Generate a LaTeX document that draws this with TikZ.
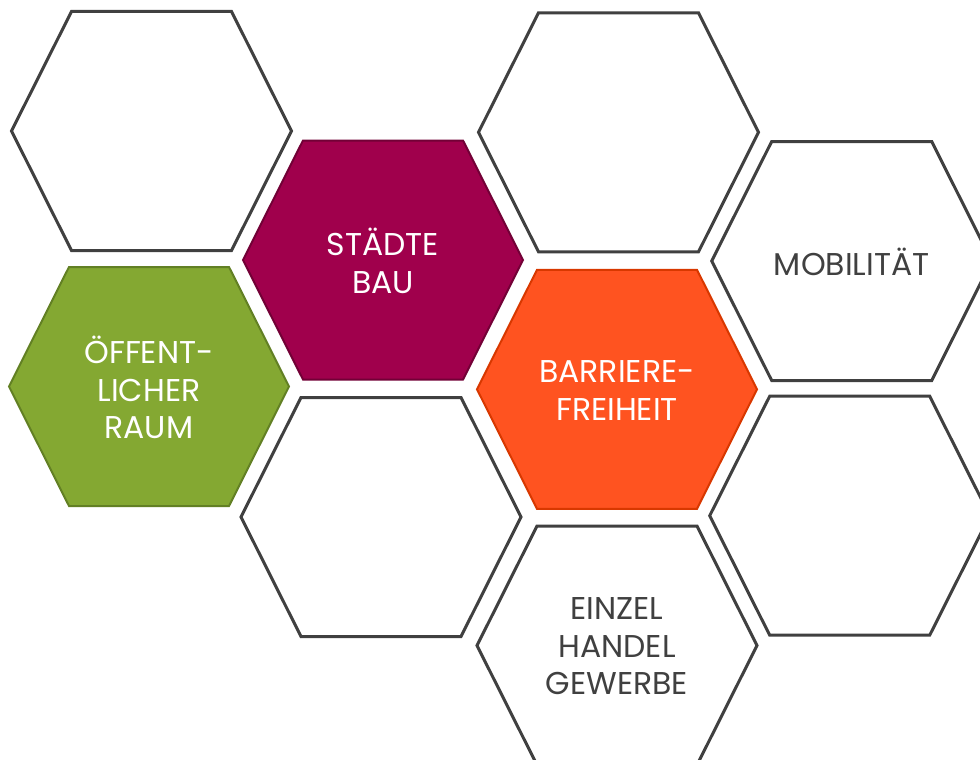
\documentclass[tikz,border=0pt]{standalone}
\usepackage{fontspec}
\setmainfont{Poppins}
\definecolor{edgegray}{HTML}{404040}
\definecolor{txtgray}{HTML}{404040}
\definecolor{purplefill}{HTML}{A0004C}
\definecolor{purpleedge}{HTML}{720036}
\definecolor{greenfill}{HTML}{84A832}
\definecolor{greenedge}{HTML}{628024}
\definecolor{orangefill}{HTML}{FF5320}
\definecolor{orangeedge}{HTML}{D83800}
\tikzset{
  plainhex/.style={draw=edgegray, line width=3pt, fill=white},
  purplehex/.style={draw=purpleedge, line width=2pt, fill=purplefill},
  greenhex/.style={draw=greenedge, line width=2pt, fill=greenfill},
  orangehex/.style={draw=orangeedge, line width=2pt, fill=orangefill},
  hextext/.style={align=center, inner sep=0pt, font=\fontsize{31.5}{37.5}\selectfont},
  darktext/.style={hextext, text=txtgray},
  lighttext/.style={hextext, text=white},
}
\newcommand\hexcell[5]{% name, center, hex style, text style, text
  \begin{scope}[shift={(#2)}]
    \path[#3] (-140,0) -- (-80,-119.5) -- (80,-119.5) -- (140,0) -- (80,119.5) -- (-80,119.5) -- cycle;
    \node[#4] (#1) at (0,1) {#5};
  \end{scope}}
\begin{document}
\begin{tikzpicture}[x=1pt,y=-1pt]
  \useasboundingbox (0,0) rectangle (980,760);
  \fill[white] (0,0) rectangle (980,760);
  \clip (0,0) rectangle (980,760);
  \hexcell{h1}{151.5,131}{plainhex}{darktext}{}
  \hexcell{staedtebau}{383,260}{purplehex}{lighttext}{STÄDTE\\BAU}
  \hexcell{oeffentlich}{149,386.5}{greenhex}{lighttext}{ÖFFENT-\\LICHER\\RAUM}
  \hexcell{h4}{381,517}{plainhex}{darktext}{}
  \hexcell{h5}{618.5,132.3}{plainhex}{darktext}{}
  \hexcell{barriere}{617,389.3}{orangehex}{lighttext}{BARRIERE-\\FREIHEIT}
  \hexcell{einzel}{617,645.5}{plainhex}{darktext}{EINZEL\\HANDEL\\GEWERBE}
  \hexcell{mobil}{851.7,261}{plainhex}{darktext}{MOBILITÄT}
  \hexcell{h9}{849.7,515.7}{plainhex}{darktext}{}
\end{tikzpicture}
\end{document}
